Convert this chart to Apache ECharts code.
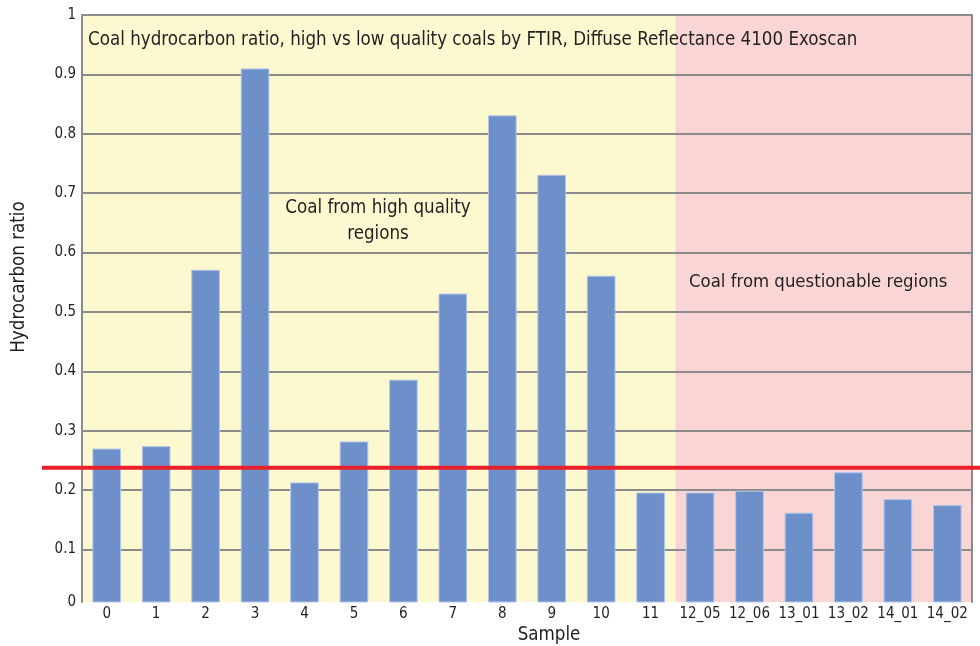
<!DOCTYPE html>
<html>
<head>
<meta charset="utf-8">
<script src="https://cdn.jsdelivr.net/npm/echarts@6/dist/echarts.min.js"></script>
<style>
  html, body { margin: 0; padding: 0; background: #fff; }
  #main { width: 980px; height: 646px; }
</style>
</head>
<body>
<div id="main"></div>
<script>
  // samples on the x axis
  var samples = ['0', '1', '2', '3', '4', '5', '6', '7', '8', '9', '10', '11',
                 '12_05', '12_06', '13_01', '13_02', '14_01', '14_02'];
  // hydrocarbon ratio per sample
  var ratios = [0.270, 0.274, 0.571, 0.910, 0.213, 0.282, 0.386, 0.531, 0.831,
                0.731, 0.561, 0.196, 0.196, 0.199, 0.162, 0.230, 0.185, 0.175];
  // which region each sample belongs to (0 = high quality, 1 = questionable)
  var region = [0, 0, 0, 0, 0, 0, 0, 0, 0, 0, 0, 0, 1, 1, 1, 1, 1, 1];
  var threshold = [0.2378];
  // y axis: floor of the axis as drawn, then the labelled ticks
  var yMin = 0.0116;
  var yMax = 1;
  var yTicks = [0.1, 0.2, 0.3, 0.4, 0.5, 0.6, 0.7, 0.8, 0.9, 1];
  var yTickLabels = ['0.1', '0.2', '0.3', '0.4', '0.5', '0.6', '0.7', '0.8', '0.9', '1'];

  var font = '"Liberation Sans Narrow", "DejaVu Sans Condensed", sans-serif';
  var txt = '#231f20';
  var gridGray = '#8c8c8c';
  var regionColors = ['#fcf8d0', '#f9d5d5'];

  // one shaded band per run of samples in the same region
  var bands = [];
  var start = 0;
  for (var i = 1; i <= region.length; i++) {
    if (i === region.length || region[i] !== region[start]) {
      bands.push([
        { xAxis: start, itemStyle: { color: regionColors[region[start]] } },
        { xAxis: i }
      ]);
      start = i;
    }
  }

  var chart = echarts.init(document.getElementById('main'));
  chart.setOption({
    animation: false,
    textStyle: { fontFamily: font, color: txt },
    grid: [
      { left: 82, right: 8, top: 15, bottom: 44 },
      { left: 42, right: 0, top: 15, bottom: 44 }
    ],
    xAxis: [
      {
        type: 'category', gridIndex: 0, data: samples,
        axisLine: { show: false }, axisTick: { show: false },
        axisLabel: { color: txt, fontSize: 15, fontFamily: font, margin: 5, interval: 0 }
      },
      {
        type: 'value', gridIndex: 0, min: 0, max: samples.length, show: false
      },
      {
        type: 'value', gridIndex: 1, min: 0, max: 1, show: false
      }
    ],
    yAxis: [
      {
        type: 'value', gridIndex: 0, min: yMin, max: yMax,
        axisLine: { show: true, lineStyle: { color: gridGray, width: 2 } },
        axisTick: { show: false, customValues: yTicks },
        splitLine: { show: true, lineStyle: { color: gridGray, width: 2 } },
        axisLabel: {
          color: txt, fontSize: 15, fontFamily: font, margin: 6,
          customValues: [yMin].concat(yTicks),
          formatter: function (v) {
            var k = yTicks.indexOf(v);
            return k >= 0 ? yTickLabels[k] : '0';
          }
        },
        z: 3
      },
      {
        type: 'value', gridIndex: 0, position: 'right', min: yMin, max: yMax,
        axisLine: { show: true, lineStyle: { color: gridGray, width: 2 } },
        axisTick: { show: false }, axisLabel: { show: false }, splitLine: { show: false }
      },
      {
        type: 'value', gridIndex: 1, min: yMin, max: yMax, show: false
      }
    ],
    series: [
      {
        type: 'line', xAxisIndex: 1, yAxisIndex: 0, data: [], silent: true, z: 0,
        markArea: { silent: true, z: 0, data: bands }
      },
      {
        type: 'bar', xAxisIndex: 0, yAxisIndex: 0, barWidth: '58%',
        data: ratios,
        itemStyle: { color: '#6d90cb', borderColor: '#b4c5e6', borderWidth: 1 },
        z: 4
      },
      {
        type: 'line', xAxisIndex: 2, yAxisIndex: 2, symbol: 'none',
        data: [[0, threshold[0]], [1, threshold[0]]],
        lineStyle: { color: '#e8202a', width: 4 },
        z: 6
      }
    ],
    graphic: [
      {
        type: 'text', left: 88, top: 31, z: 10,
        style: { text: 'Coal hydrocarbon ratio, high vs low quality coals by FTIR, Diffuse Reflectance 4100 Exoscan',
                 font: '18.6px ' + font, fill: txt }
      },
      {
        type: 'text', x: 378, y: 195, z: 10,
        style: { text: 'Coal from high quality\nregions', font: '18.6px ' + font, fill: txt,
                 align: 'center', lineHeight: 26 }
      },
      {
        type: 'text', left: 689, top: 273, z: 10,
        style: { text: 'Coal from questionable regions', font: '18.4px ' + font, fill: txt }
      },
      {
        type: 'text', x: 19, y: 277, rotation: Math.PI / 2, z: 10,
        style: { text: 'Hydrocarbon ratio', font: '18.6px ' + font, fill: txt,
                 align: 'center', verticalAlign: 'middle' }
      },
      {
        type: 'text', x: 549, y: 635, z: 10,
        style: { text: 'Sample', font: '18.6px ' + font, fill: txt,
                 align: 'center', verticalAlign: 'middle' }
      }
    ]
  });
</script>
</body>
</html>
